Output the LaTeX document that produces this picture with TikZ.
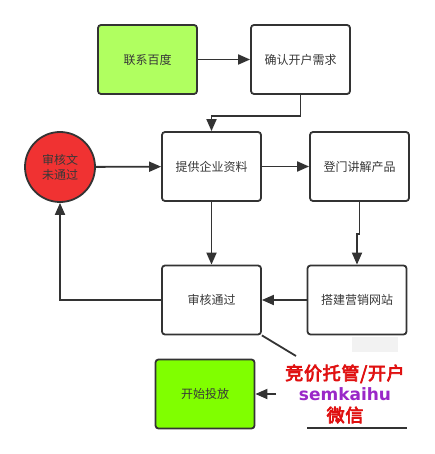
\documentclass[tikz,border=0pt]{standalone}
\usepackage{fontspec}
\setmainfont{Noto Sans CJK SC}
\newfontfamily\wmfont[FakeBold=4,LetterSpace=4]{Noto Sans CJK SC}
\newfontfamily\wmlat{DejaVu Sans}
\usetikzlibrary{arrows.meta}
\definecolor{lgreen}{HTML}{B0FF60}
\definecolor{vgreen}{HTML}{80FF00}
\definecolor{cred}{HTML}{F03232}
\definecolor{wred}{HTML}{E01010}
\definecolor{wpurple}{HTML}{9A28C8}
\definecolor{edge}{HTML}{333333}
\begin{document}
\begin{tikzpicture}[x=1pt,y=-1pt,
  box/.style={draw=edge, line width=1.8pt, rounded corners=3pt, minimum width=99pt, minimum height=69pt, font=\fontsize{12}{14}\selectfont, text=black!78, inner sep=0pt, fill=white},
  circ/.style={draw=edge, line width=1.8pt, circle, minimum size=70pt, inner sep=0pt, fill=cred, font=\fontsize{12}{15}\selectfont, text=black!78, align=center},
  arr/.style={draw=edge, line width=1.8pt, -{Triangle[length=12pt,width=10pt]}},
  ln/.style={draw=edge, line width=1.8pt}]
\useasboundingbox (0,0) rectangle (435,454);
\fill[white] (0,0) rectangle (435,454);
\node[box, fill=lgreen] (lx) at (147.5,59.5) {联系百度};
\node[box] (qr) at (300.5,59.5) {确认开户需求};
\node[box] (tg) at (211.5,166.5) {提供企业资料};
\node[box] (dm) at (359.5,166.5) {登门讲解产品};
\node[circ] (sw) at (60,167) {审核文\\未通过};
\node[box] (sh) at (211.5,300) {审核通过};
\node[box] (dj) at (357,300) {搭建营销网站};
\node[box, fill=vgreen] (ks) at (205,394) {开始投放};
\draw[arr] (lx) -- (qr);
\draw[arr] (qr.south) -- ++(0,21) -| (tg.north);
\draw[arr] (sw) -- (tg);
\draw[arr] (tg) -- (dm);
\draw[arr] (tg) -- (sh);
\draw[arr] (dm.south) -- ++(0,32) -| (dj.north);
\draw[arr] (dj) -- (sh);
\draw[arr] (sh.west) -| (sw.south);
\coordinate (dg) at (296,356);
\coordinate (wm) at (276,394);
\draw[ln] (sh.south east) -- (dg);
\draw[arr] (wm) -- (ks);
\fill[black!5] (352,337) rectangle (398,352);
\coordinate (bl) at (307,428);
\coordinate (br) at (407,428);
\draw[ln] (bl) -- (br);
\node[fill=white, inner sep=1pt, align=center, font=\fontsize{18}{21}\selectfont] (wt) at (345,394) {%
  {\wmfont\color{wred}竞价托管/开户}\\
  {\wmlat\bfseries\fontsize{17}{21}\selectfont\color{wpurple}semkaihu}\\
  {\wmfont\color{wred}微信}};
\end{tikzpicture}
\end{document}
